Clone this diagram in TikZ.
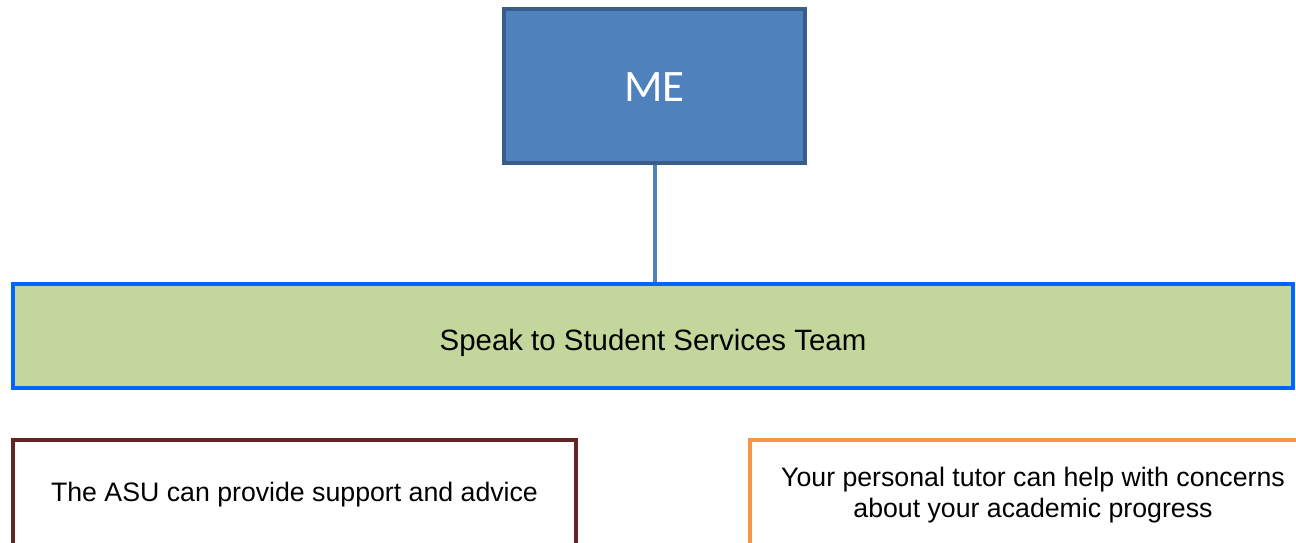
\documentclass[tikz,border=0pt]{standalone}
\usepackage{fontspec}
\setmainfont{Liberation Sans}
\newfontfamily\mefont{Carlito}
\definecolor{meblue}{HTML}{4F81BD}
\definecolor{meedge}{HTML}{385D8A}
\definecolor{teamgreen}{HTML}{C3D69B}
\definecolor{teamedge}{HTML}{0066FF}
\definecolor{asuedge}{HTML}{632523}
\definecolor{tutoredge}{HTML}{F79646}
\tikzset{box/.style={draw, line width=4pt, rectangle, inner sep=0pt, align=center,
    font=\fontsize{26.7}{31}\selectfont}}

\begin{document}
\begin{tikzpicture}[x=1pt,y=-1pt]
    \useasboundingbox (0,0) rectangle (1296,543);
    \clip (0,0) rectangle (1296,543);
    \node[box, fill=meblue, draw=meedge, text=white, minimum width=301pt, minimum height=154pt,
      text height=32pt, text depth=0pt, font=\mefont\fontsize{45}{50}\selectfont] (me) at (654.5,86) {ME};
    \node[box, fill=teamgreen, draw=teamedge, minimum width=1280pt, minimum height=104pt,
      text height=28pt, text depth=0pt, font=\fontsize{29.4}{34}\selectfont] (team) at (653,336) {Speak to Student Services Team};
    \node[box, draw=asuedge, minimum width=563pt, minimum height=110pt] (asu) at (294.5,495) {The ASU can provide support and advice};
    \node[box, draw=tutoredge, minimum width=566pt, minimum height=110pt] (tutor) at (1033,495) {Your personal tutor can help with concerns\\about your academic progress};
    \draw[meblue, line width=4pt] (me.south) -- (me.south |- team.north);
  \end{tikzpicture}
\end{document}
